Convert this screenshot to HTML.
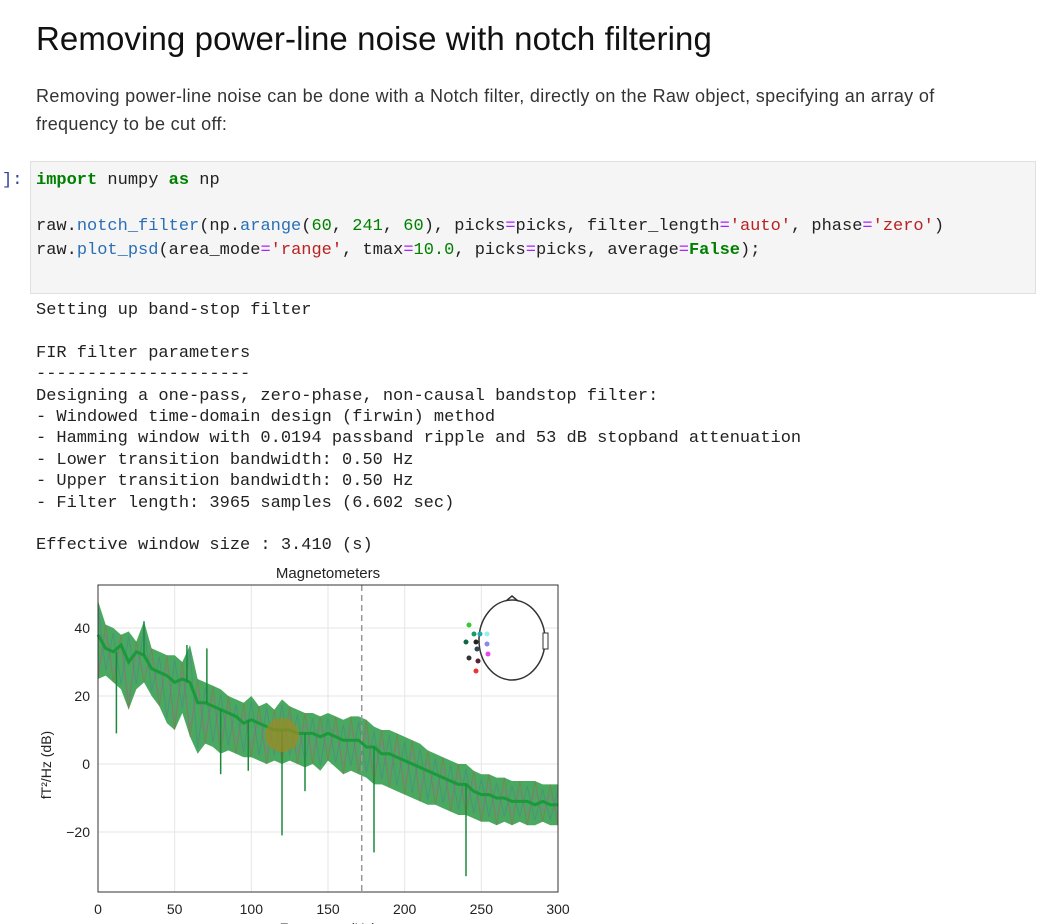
<!DOCTYPE html>
<html><head><meta charset="utf-8">
<style>
body{margin:0;width:1039px;height:924px;background:#fff;position:relative;overflow:hidden;font-family:"Liberation Sans",sans-serif;}
.abs{position:absolute;white-space:pre;}
h1{position:absolute;left:36px;top:20px;margin:0;font-size:33px;font-weight:normal;color:#111;letter-spacing:0.1px;}
.p{font-size:18px;color:#333;letter-spacing:0.35px;}
.code{position:absolute;left:30px;top:161px;width:1006px;height:133px;background:#f5f5f5;border:1px solid #e0e0e0;box-sizing:border-box;}
.mono{font-family:"Liberation Mono",monospace;font-size:17px;color:#222;}
.kw{color:#008000;font-weight:bold}.fn{color:#2a6fb5}.st{color:#ba2121}.nm{color:#008000}.op{color:#aa22ff}
</style></head><body>
<h1>Removing power-line noise with notch filtering</h1>
<div class="abs p" style="left:36px;top:86px">Removing power-line noise can be done with a Notch filter, directly on the Raw object, specifying an array of</div>
<div class="abs p" style="left:36px;top:114px">frequency to be cut off:</div>
<div class="abs mono" style="left:2px;top:171px;color:#303f9f">]:</div>
<div class="code"></div>
<div class="abs mono" style="left:36px;top:171px"><span class="kw">import</span> numpy <span class="kw">as</span> np</div>
<div class="abs mono" style="left:36px;top:217px">raw.<span class="fn">notch_filter</span>(np.<span class="fn">arange</span>(<span class="nm">60</span>, <span class="nm">241</span>, <span class="nm">60</span>), picks<span class="op">=</span>picks, filter_length<span class="op">=</span><span class="st">'auto'</span>, phase<span class="op">=</span><span class="st">'zero'</span>)</div>
<div class="abs mono" style="left:36px;top:241px">raw.<span class="fn">plot_psd</span>(area_mode<span class="op">=</span><span class="st">'range'</span>, tmax<span class="op">=</span><span class="nm">10.0</span>, picks<span class="op">=</span>picks, average<span class="op">=</span><span class="kw">False</span>);</div>
<div class="abs mono" style="left:36px;top:300px;line-height:21.4px">Setting up band-stop filter

FIR filter parameters
---------------------
Designing a one-pass, zero-phase, non-causal bandstop filter:
- Windowed time-domain design (firwin) method
- Hamming window with 0.0194 passband ripple and 53 dB stopband attenuation
- Lower transition bandwidth: 0.50 Hz
- Upper transition bandwidth: 0.50 Hz
- Filter length: 3965 samples (6.602 sec)

Effective window size : 3.410 (s)</div>
<svg id="chart" class="abs" style="left:0;top:555px" width="600" height="369"></svg>
<script>
const freqs=[0,5,10,15,20,25,30,35,40,45,50,55,60,65,70,75,80,85,90,95,100,105,110,115,120,125,130,135,140,145,150,155,160,165,170,175,180,185,190,195,200,205,210,215,220,225,230,235,240,245,250,255,260,265,270,275,280,285,290,295,300];
const upper=[48,41,40,38,39,36,42,34,33,32,32,30,35,25,24,23,22,20,19,18,20,17,18,16,19,17,16,15,15,14,15,14,13,14,14,13,11,10,10,9,8,7,6,4,3,2,1,0,0,-2,-3,-3,-4,-4,-5,-5,-5,-5,-6,-6,-6];
const lower=[25,26,24,22,16,22,24,20,17,12,10,15,8,3,6,5,3,4,3,2,2,1,0,1,0,1,0,-1,0,-2,1,-1,-3,-2,-3,-4,-6,-6,-7,-8,-9,-10,-11,-12,-12,-13,-14,-15,-15,-16,-17,-17,-18,-17,-18,-17,-18,-18,-17,-18,-18];
const center=[38,34,33,35,30,33,32,28,27,26,24,25,24,18,18,17,16,15,14,12,13,12,11,10,10,10,9,9,9,8,9,8,7,7,7,5,5,3,3,2,1,0,-1,-2,-3,-4,-5,-6,-6,-8,-9,-9,-10,-10,-11,-11,-11,-12,-11,-12,-12];
const spikeFreqs=[12,30,58,71,80,98,120,135,180,240];
const spikeVals=[9,42,35,34,-3,-2,-21,-8,-26,-33];
const xTicks=[0,50,100,150,200,250,300];
const yTicks=[40,20,0,-20];
const X0=98,X1=558,Y40=73,PX=3.4;
const sx=f=>X0+(X1-X0)*f/300;
const sy=v=>Y40+(40-v)*PX;
const svg=document.getElementById('chart');
const NS='http://www.w3.org/2000/svg';
function mk(t,a){const e=document.createElementNS(NS,t);for(const k in a)e.setAttribute(k,a[k]);svg.appendChild(e);return e;}
const plotTop=30,plotBot=337;
xTicks.forEach(t=>{const l=mk('line',{x1:sx(t),x2:sx(t),y1:plotTop,y2:plotBot,stroke:'#e6e6e6'});


const tx=mk('text',{x:sx(t),y:plotBot+22,'text-anchor':'middle','font-size':14,fill:'#222','font-family':'Liberation Sans'});tx.textContent=t;

});
yTicks.forEach(t=>{const l=mk('line',{x1:X0,x2:X1,y1:sy(t),y2:sy(t),stroke:'#e6e6e6'});


const tx=mk('text',{x:X0-8,y:sy(t)+5,'text-anchor':'end','font-size':14,fill:'#222','font-family':'Liberation Sans'});tx.textContent=t<0?'\u2212'+(-t):t;

});
let pts=freqs.map((f,i)=>sx(f)+','+sy(upper[i])).concat(freqs.map((f,i)=>sx(f)+','+sy(lower[i])).reverse());
const band=mk('polygon',{points:pts.join(' '),fill:'#2a9a45','fill-opacity':0.85});


const colors=['#d04040','#5060c0','#c050c0'];
colors.forEach((c,k)=>{let d='';freqs.forEach((f,i)=>{const v=(i+k)%2?upper[i]-(k*1.5):lower[i]+(k*1.5);d+=(i?'L':'M')+sx(f)+','+sy(v);});
const p=mk('path',{d:d,stroke:c,'stroke-width':1,fill:'none','stroke-opacity':0.3});

});
const cl=mk('path',{d:freqs.map((f,i)=>(i?'L':'M')+sx(f)+','+sy(center[i])).join(''),stroke:'#1a9a3a','stroke-width':3,fill:'none'});


spikeFreqs.forEach((f,i)=>{const j=Math.round(f/5);const base=center[Math.min(j,center.length-1)];
const s=mk('line',{x1:sx(f),x2:sx(f),y1:sy(base),y2:sy(spikeVals[i]),stroke:'#1a8a3a','stroke-width':1.5});

});
const blob=mk('circle',{cx:sx(120),cy:sy(8.5),r:17,fill:'#a08a20','fill-opacity':0.7});


const dl=mk('line',{x1:sx(172),x2:sx(172),y1:plotTop,y2:plotBot,stroke:'#999','stroke-dasharray':'6,4','stroke-width':1.5});


const fr=mk('rect',{x:X0,y:plotTop,width:X1-X0,height:plotBot-plotTop,fill:'none',stroke:'#333'});


const ti=mk('text',{x:328,y:23,'text-anchor':'middle','font-size':15,fill:'#222','font-family':'Liberation Sans'});ti.textContent='Magnetometers';


const yl=mk('text',{x:0,y:0,transform:'translate(51,210) rotate(-90)','text-anchor':'middle','font-size':14,fill:'#222','font-family':'Liberation Sans'});yl.textContent='fT²/Hz (dB)';


const xl=mk('text',{x:328,y:378,'text-anchor':'middle','font-size':14,fill:'#222','font-family':'Liberation Sans'});xl.textContent='Frequency (Hz)';


const hd=mk('ellipse',{cx:512,cy:85,rx:33,ry:40,fill:'#fff',stroke:'#333','stroke-width':1.5});


const ns=mk('path',{d:'M506,46 L512,41 L518,46',fill:'none',stroke:'#333','stroke-width':1.5});


const er=mk('rect',{x:543,y:78,width:5,height:16,fill:'#fff',stroke:'#333'});


[[469,70,'#3c3'],[474,79,'#1a9a6a'],[480,79,'#2aa'],[487,79,'#9ee'],[466,87,'#164'],[476,87,'#222'],[487,89,'#88e'],[477,94,'#345'],[488,99,'#e4e'],[469,103,'#333'],[478,106,'#523'],[476,116,'#e33']].forEach(d=>{
const c=mk('circle',{cx:d[0],cy:d[1],r:2.5,fill:d[2]});

});
</script>
</body></html>
